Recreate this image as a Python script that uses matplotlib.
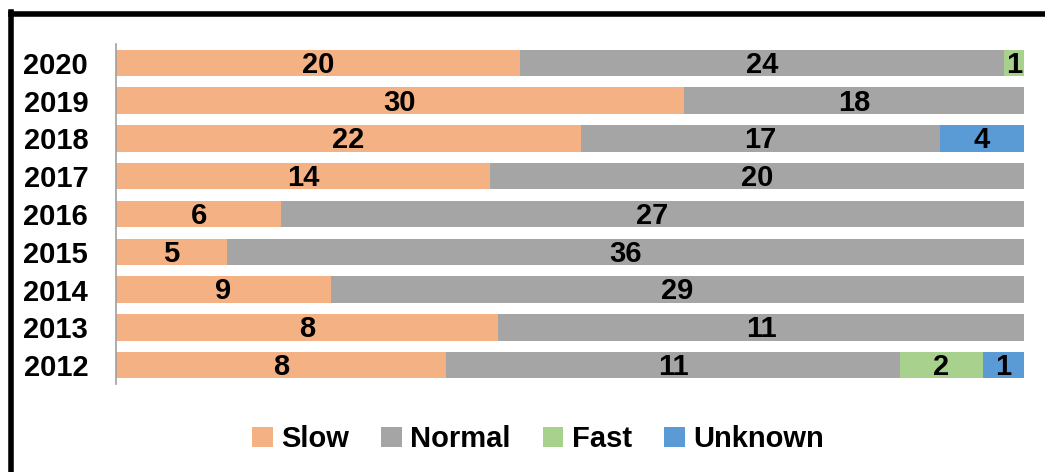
import matplotlib.pyplot as plt
import numpy as np
from matplotlib.lines import Line2D

years = ["2020", "2019", "2018", "2017", "2016", "2015", "2014", "2013", "2012"]
slow = [20, 30, 22, 14, 6, 5, 9, 8, 8]
normal = [24, 18, 17, 20, 27, 36, 29, 11, 11]
fast = [1, 0, 0, 0, 0, 0, 0, 0, 2]
unknown = [0, 0, 4, 0, 0, 0, 0, 0, 1]

series = [("Slow", slow, "#F4B183"), ("Normal", normal, "#A5A5A5"),
          ("Fast", fast, "#A9D18E"), ("Unknown", unknown, "#5B9BD5")]

font = ['Liberation Sans', 'DejaVu Sans']
plt.rcParams['font.family'] = font
fs = 21

fig = plt.figure(figsize=(10.45, 4.72), dpi=100)
ax = fig.add_axes([116/1045, 1 - 384/472, (1024-116)/1045, (384-44)/472])

totals = np.array(slow) + np.array(normal) + np.array(fast) + np.array(unknown)
y = np.arange(len(years))
left = np.zeros(len(years))
for name, vals, col in series:
    share = np.array(vals) / totals
    ax.barh(y, share, left=left, height=0.7, color=col, label=name)
    for i, v in enumerate(vals):
        if v > 0:
            ax.text(left[i] + share[i] / 2, y[i] + 0.05, str(v), ha="center", va="center",
                    fontsize=fs, fontweight="bold", color="black")
    left += share

ax.set_xlim(0, 1)
ax.set_ylim(len(years) - 0.5, -0.5)
ax.set_yticks(y)
ax.set_yticklabels(years, fontsize=fs, fontweight="bold")
ax.set_xticks([])
ax.tick_params(axis="y", length=0, pad=20)
for s in ["top", "right", "bottom"]:
    ax.spines[s].set_visible(False)
ax.spines["left"].set_color("#A0A0A0")
ax.spines["left"].set_linewidth(1.2)

leg = fig.legend(loc="center", bbox_to_anchor=(0.515, 1 - 439/472), ncol=4, frameon=False,
                 prop={"size": fs, "weight": "bold", "family": font},
                 handlelength=0.7, handleheight=0.7, handletextpad=0.3, columnspacing=1.1)

fig.add_artist(Line2D([11/1045, 1.0], [1 - 14/472, 1 - 14/472], color="black", lw=4, transform=fig.transFigure))
fig.add_artist(Line2D([11/1045, 11/1045], [1 - 12/472, 0], color="black", lw=4, transform=fig.transFigure))

fig.savefig("out.png", dpi=100)
